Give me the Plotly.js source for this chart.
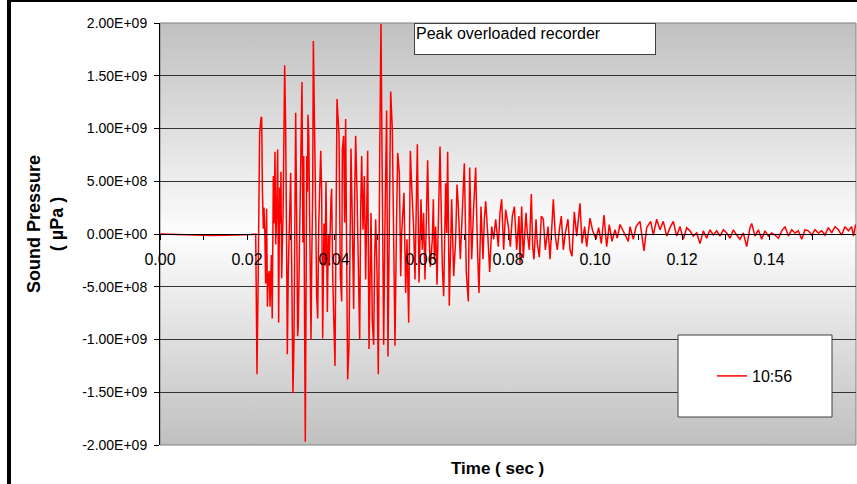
<!DOCTYPE html>
<html>
<head>
<meta charset="utf-8">
<script src="https://cdn.plot.ly/plotly-3.0.1.min.js"></script>
<style>html,body{margin:0;padding:0;background:#fff;}#chart{width:857px;height:484px;}</style>
</head>
<body>
<div id="chart"></div>
<script>
// Time (s) and sound pressure (in units of 1e9 µPa)
const time_s = [
 0, 0.003, 0.006, 0.009, 0.012, 0.015, 0.018, 0.021, 0.022, 0.0223,
 0.0226, 0.0229, 0.02322, 0.02337, 0.02355, 0.02375, 0.0239, 0.0241, 0.02429, 0.0245,
 0.0247, 0.0249, 0.02513, 0.0253, 0.0256, 0.0258, 0.02605, 0.0262, 0.02644, 0.0266,
 0.02682, 0.02705, 0.02728, 0.0275, 0.0277, 0.0278, 0.02797, 0.0283, 0.02866, 0.02889,
 0.02912, 0.02927, 0.0295, 0.02973, 0.03004, 0.0303, 0.03057, 0.0308, 0.031, 0.03119,
 0.03142, 0.03165, 0.0318, 0.0321, 0.03235, 0.03264, 0.03285, 0.03305, 0.0332, 0.0334,
 0.0336, 0.03372, 0.0339, 0.03402, 0.0342, 0.03433, 0.03471, 0.0349, 0.0351, 0.03525,
 0.0355, 0.0357, 0.03602, 0.03625, 0.0365, 0.03678, 0.03695, 0.03716, 0.0374, 0.0377,
 0.03795, 0.03816, 0.03847, 0.0387, 0.0389, 0.03931, 0.03946, 0.0397, 0.04, 0.04023,
 0.04069, 0.04115, 0.04146, 0.04176, 0.04192, 0.04222, 0.04245, 0.04268, 0.04291, 0.04314,
 0.04345, 0.04368, 0.04391, 0.04421, 0.04452, 0.04475, 0.04498, 0.04529, 0.04559, 0.0459,
 0.04613, 0.04636, 0.04667, 0.04697, 0.04728, 0.0475, 0.04774, 0.04805, 0.04828, 0.04851,
 0.04881, 0.04912, 0.04935, 0.04958, 0.04989, 0.05019, 0.0505, 0.0508, 0.05111, 0.05142,
 0.05172, 0.0521, 0.05241, 0.05272, 0.05303, 0.05341, 0.05372, 0.05402, 0.05433, 0.05464,
 0.05502, 0.05533, 0.05556, 0.05586, 0.05609, 0.05648, 0.05678, 0.05717, 0.05755, 0.05786,
 0.05832, 0.05862, 0.05916, 0.05954, 0.06, 0.0603, 0.0606, 0.06092, 0.06153, 0.06184,
 0.06215, 0.0626, 0.06284, 0.06307, 0.06337, 0.06368, 0.06399, 0.06437, 0.0646, 0.0649,
 0.06521, 0.06567, 0.0659, 0.06613, 0.0665, 0.06682, 0.06705, 0.06751, 0.06797, 0.06828,
 0.06858, 0.06904, 0.0695, 0.06996, 0.07042, 0.07088, 0.07119, 0.07165, 0.07211, 0.07257,
 0.07295, 0.07333, 0.07379, 0.07425, 0.07456, 0.07487, 0.07533, 0.07579, 0.07625, 0.07671,
 0.07717, 0.07778, 0.07816, 0.07854, 0.079, 0.07946, 0.08008, 0.08054, 0.081, 0.08146,
 0.08199, 0.08253, 0.08276, 0.08314, 0.08352, 0.08414, 0.08444, 0.0849, 0.08536, 0.08567,
 0.08598, 0.08644, 0.08674, 0.0872, 0.08766, 0.08812, 0.08858, 0.0892, 0.08966, 0.09004,
 0.09042, 0.09088, 0.09134, 0.0918, 0.09226, 0.09272, 0.09318, 0.09379, 0.09425, 0.09471,
 0.09525, 0.09579, 0.09655, 0.09701, 0.09762, 0.09808, 0.09885, 0.09946, 0.10023, 0.10084,
 0.10146, 0.10207, 0.10268, 0.10329, 0.10391, 0.1046, 0.10513, 0.10575, 0.10667, 0.10766,
 0.10805, 0.10881, 0.10943, 0.11034, 0.11126, 0.11188, 0.1128, 0.1134, 0.11418, 0.11494,
 0.1157, 0.11648, 0.11724, 0.118, 0.11878, 0.11954, 0.1203, 0.12108, 0.12184, 0.1226,
 0.12338, 0.12414, 0.1249, 0.12568, 0.12644, 0.1272, 0.12798, 0.12874, 0.1295, 0.13028,
 0.13103, 0.1318, 0.13257, 0.13333, 0.1341, 0.13487, 0.13563, 0.13602, 0.13678, 0.13755,
 0.13832, 0.13908, 0.13985, 0.14062, 0.14138, 0.14215, 0.14292, 0.14368, 0.14445, 0.14522,
 0.14598, 0.14675, 0.14752, 0.14828, 0.14905, 0.14982, 0.15057, 0.15134, 0.15211, 0.15287,
 0.15364, 0.15441, 0.15517, 0.15594, 0.15671, 0.15747, 0.15824, 0.15901, 0.15939, 0.15993
];
const pressure_1e9uPa = [
 0.0, -0.005, -0.01, -0.015, -0.015, -0.012, -0.01, -0.005, 0.0, -1.33,
 -0.30, 0.95, 1.10, 1.11, 0.40, 0.05, 0.25, 0.02, -0.47, 0.24,
 -0.69, -0.40, -0.35, -0.69, -0.20, -0.80, 0.55, 0.10, 0.78, -0.10,
 0.20, 0.80, -0.84, 0.44, 0.10, 0.59, -0.42, 0.20, 1.60, 0.99,
 -0.21, -1.14, -0.34, 0.10, 0.58, -0.40, -1.51, -1.02, 0.20, 1.15,
 0.15, -0.97, -0.86, 0.00, 0.60, 1.44, -0.08, 0.74, -0.50, -1.97,
 -0.40, 0.74, 0.40, 1.13, 0.92, 0.42, -1.00, -0.20, 0.40, 1.83,
 1.23, 0.50, -0.59, -0.80, 0.10, 0.72, 0.79, 0.40, -0.99, 0.10,
 -0.30, 0.50, -0.74, 0.00, -0.30, 0.33, 0.43, -0.40, -1.07, -1.25,
 1.28, 0.94, -0.40, -0.64, 0.80, 0.93, 0.11, 1.09, -0.21, -1.38,
 -1.06, 0.23, 0.81, 0.11, -0.71, 0.36, 0.93, 0.39, -0.21, -1.00,
 0.23, 0.74, 0.04, 0.55, -0.43, 0.23, 0.79, -1.09, -0.27, 0.20,
 -0.83, -1.05, -0.21, 0.14, -0.37, -1.33, 0.71, 1.99, 0.42, -1.05,
 0.11, 1.17, -1.16, 0.23, 1.35, 0.99, -0.21, -1.06, -0.02, 0.77,
 0.58, -0.40, 0.01, 0.23, 0.39, -0.56, -0.05, -0.84, 0.79, 0.45,
 0.04, -0.43, 0.85, -0.46, 0.33, -0.15, 0.20, -0.43, 0.70, 0.01,
 -0.31, -0.05, 0.33, -0.24, 0.07, -0.48, 0.23, 0.83, 0.33, -0.31,
 -0.59, 0.48, 0.01, 0.78, -0.68, -0.15, 0.33, -0.40, -0.05, 0.47,
 0.26, -0.24, 0.20, 0.67, -0.37, -0.64, 0.63, -0.24, 0.26, 0.63,
 -0.09, -0.56, 0.26, -0.24, 0.14, 0.31, 0.01, -0.36, 0.07, -0.05,
 0.14, -0.12, 0.20, 0.33, -0.15, 0.23, 0.07, -0.12, 0.17, 0.26,
 -0.15, 0.17, -0.28, 0.26, -0.23, 0.20, 0.01, -0.15, 0.38, -0.12,
 -0.24, 0.14, -0.09, -0.22, 0.17, 0.14, -0.15, 0.07, -0.24, 0.04,
 0.33, -0.02, -0.15, 0.04, 0.17, -0.15, 0.01, 0.14, -0.15, -0.21,
 0.21, -0.02, 0.29, -0.09, 0.07, -0.12, 0.15, 0.03, -0.05, 0.06,
 -0.09, 0.18, -0.12, 0.09, -0.07, 0.04, -0.04, 0.09, 0.01, -0.07,
 0.07, -0.05, 0.07, 0.12, -0.16, 0.06, 0.12, -0.01, 0.14, 0.04,
 0.12, -0.02, 0.06, 0.12, -0.02, 0.07, -0.05, 0.06, 0.03, -0.02,
 0.01, -0.09, 0.03, -0.04, 0.04, -0.01, 0.03, -0.02, 0.04, 0.01,
 -0.04, 0.04, -0.01, -0.05, 0.01, -0.12, 0.06, 0.10, -0.02, 0.04,
 -0.05, 0.03, -0.02, 0.01, -0.01, -0.04, 0.03, 0.07, -0.02, 0.04,
 0.01, 0.03, -0.05, 0.04, 0.03, -0.01, 0.04, 0.01, 0.03, -0.01,
 0.06, 0.01, 0.07, 0.04, -0.01, 0.07, 0.03, 0.07, -0.02, 0.09
];
const seriesName = "10:56";

const yTickVals = [-2e9, -1.5e9, -1e9, -5e8, 0, 5e8, 1e9, 1.5e9, 2e9];
const yTickText = ["-2.00E+09", "-1.50E+09", "-1.00E+09", "-5.00E+08", "0.00E+00", "5.00E+08", "1.00E+09", "1.50E+09", "2.00E+09"];
const xTickVals = [0, 0.02, 0.04, 0.06, 0.08, 0.10, 0.12, 0.14];
const xTickText = ["0.00", "0.02", "0.04", "0.06", "0.08", "0.10", "0.12", "0.14"];
const xMinorTickVals = [0.01, 0.03, 0.05, 0.07, 0.09, 0.11, 0.13, 0.15];

const FONT = "'Liberation Sans', Arial, sans-serif";

const gradSvg = "<svg xmlns='http://www.w3.org/2000/svg' width='10' height='100' viewBox='0 0 10 100' preserveAspectRatio='none'>" +
  "<defs><linearGradient id='g' x1='0' y1='0' x2='0' y2='1'>" +
  "<stop offset='0' stop-color='#c0c0c0'/><stop offset='0.5' stop-color='#fdfdfd'/><stop offset='1' stop-color='#c0c0c0'/>" +
  "</linearGradient></defs><rect width='10' height='100' fill='url(#g)'/></svg>";
const gradUri = "data:image/svg+xml;charset=utf-8," + encodeURIComponent(gradSvg);

const trace = {
  type: "scatter",
  mode: "lines",
  name: seriesName,
  x: time_s,
  y: pressure_1e9uPa.map(v => v * 1e9),
  line: {color: "#ff0000", width: 1.5},
  hoverinfo: "skip"
};

const layout = {
  width: 857, height: 484,
  margin: {l: 160, r: 1, t: 23, b: 39, pad: 0},
  paper_bgcolor: "#ffffff",
  plot_bgcolor: "rgba(0,0,0,0)",
  font: {family: FONT, color: "#000", size: 14},
  showlegend: true,
  legend: {
    x: (712 - 160) / 696, xanchor: "left",
    y: (445 - 376) / 422, yanchor: "middle",
    bgcolor: "rgba(0,0,0,0)", borderwidth: 0,
    font: {family: FONT, size: 16, color: "#000"}
  },
  xaxis: {
    range: [0, 0.16],
    anchor: "free", position: 0.5,
    tickmode: "array", tickvals: xTickVals, ticktext: xTickText,
    ticks: "outside", ticklen: 5, tickcolor: "#000", tickwidth: 1,
    ticklabelstandoff: 6,
    tickfont: {family: FONT, size: 16, color: "#000"},
    minor: {tickmode: "array", tickvals: xMinorTickVals, ticks: "outside", ticklen: 5, tickcolor: "#000", showgrid: false},
    showgrid: false, zeroline: false,
    showline: true, linecolor: "#000", linewidth: 1,
    fixedrange: true
  },
  yaxis: {
    range: [-2e9, 2e9],
    tickmode: "array", tickvals: yTickVals, ticktext: yTickText,
    ticks: "outside", ticklen: 5, tickcolor: "#000", tickwidth: 1,
    ticklabelstandoff: 4,
    tickfont: {family: FONT, size: 14, color: "#000"},
    showgrid: true, gridcolor: "#333333", gridwidth: 1,
    zeroline: true, zerolinecolor: "#000", zerolinewidth: 1,
    showline: true, linecolor: "#000", linewidth: 1,
    fixedrange: true
  },
  images: [{
    source: gradUri, xref: "paper", yref: "paper",
    x: 0, y: 1, sizex: 1, sizey: 1, sizing: "stretch",
    xanchor: "left", yanchor: "top", layer: "below"
  }],
  shapes: [
    // outer black frame (left and top)
    {type: "rect", xref: "paper", yref: "paper", x0: (7 - 160) / 696, x1: (11 - 160) / 696, y0: (445 - 484) / 422, y1: (445 - 0) / 422, fillcolor: "#000", line: {width: 0}, layer: "above"},
    {type: "rect", xref: "paper", yref: "paper", x0: (7 - 160) / 696, x1: (857 - 160) / 696, y0: (445 - 2) / 422, y1: (445 - 0) / 422, fillcolor: "#000", line: {width: 0}, layer: "above"},
    // plot area border
    {type: "rect", xref: "paper", yref: "paper", x0: 0, x1: 1, y0: 0, y1: 1, line: {color: "#808080", width: 1}, fillcolor: "rgba(0,0,0,0)", layer: "between"},
    // legend box
    {type: "rect", xref: "paper", yref: "paper", x0: (678 - 160) / 696, x1: (832 - 160) / 696, y0: (445 - 417) / 422, y1: (445 - 335) / 422, fillcolor: "#ffffff", line: {color: "#404040", width: 1}, layer: "above"}
  ],
  annotations: [
    {
      text: "Peak overloaded recorder",
      xref: "paper", yref: "paper",
      x: (414 - 160) / 696, y: 1, xanchor: "left", yanchor: "top",
      width: 238, height: 28, align: "left", valign: "top",
      bgcolor: "#ffffff", bordercolor: "#404040", borderwidth: 1, borderpad: 1,
      showarrow: false,
      font: {family: FONT, size: 16, color: "#000"}
    },
    {
      text: "<b>Sound Pressure</b><br><b>( µPa )</b>",
      xref: "paper", yref: "paper",
      x: (45 - 160) / 696, y: (445 - 224) / 422, xanchor: "center", yanchor: "middle",
      textangle: -90, showarrow: false,
      font: {family: FONT, size: 18, color: "#000"}
    },
    {
      text: "<b>Time ( sec )</b>",
      xref: "paper", yref: "paper",
      x: (497 - 160) / 696, y: (445 - 468) / 422, xanchor: "center", yanchor: "middle",
      showarrow: false,
      font: {family: FONT, size: 17, color: "#000"}
    }
  ]
};

Plotly.newPlot("chart", [trace], layout, {staticPlot: true, displayModeBar: false});
</script>
</body>
</html>
